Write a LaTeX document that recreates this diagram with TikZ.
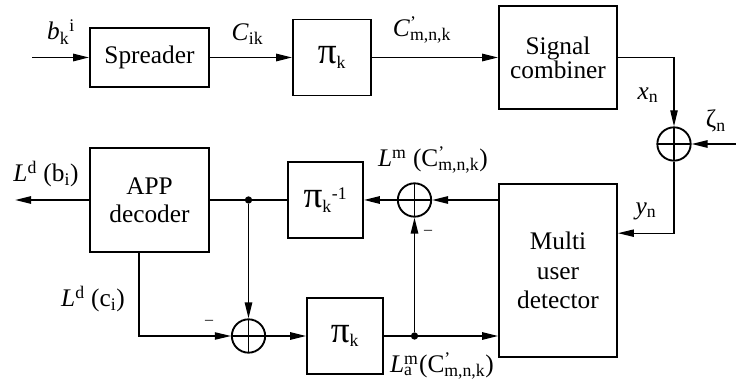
\documentclass[tikz,border=0pt]{standalone}
\usepackage{fontspec}
\setmainfont{Liberation Serif}
\usetikzlibrary{arrows.meta, positioning, calc}

\newcommand{\Cmnk}[1]{#1\rlap{\textsuperscript{’}}\textsubscript{m,n,k}}
\newcommand{\bigpi}{{\fontsize{28}{28}\selectfont π}}

\begin{document}
\begin{tikzpicture}[
    x=0.75pt, y=-0.75pt,
    font=\fontsize{19}{21}\selectfont,
    block/.style={rectangle, draw, line width=1.4pt, inner sep=0pt, align=center},
    adder/.style={circle, draw, line width=1.4pt, minimum size=25pt, inner sep=0pt,
        path picture={\draw[line width=1.4pt]
            (path picture bounding box.north) -- (path picture bounding box.south)
            (path picture bounding box.west) -- (path picture bounding box.east);}},
    dot/.style={circle, fill, minimum size=5.5pt, inner sep=0pt},
    arrow/.style={-{Triangle[length=12pt, width=5.5pt]}, line width=1.3pt},
    thinarrow/.style={-{Triangle[length=12pt, width=5.5pt]}, line width=0.8pt},
    line/.style={line width=1.3pt},
    lbl/.style={inner sep=0pt},
    minus/.style={inner sep=0pt, font=\fontsize{12}{14}\selectfont}
]
\useasboundingbox (0,0) rectangle (736,388);

% Blocks
\node[block, minimum width=89.25pt, minimum height=44.25pt] (spreader) at (149.5,57.5) {Spreader};
\node[block, minimum width=58.5pt, minimum height=57pt] (pitop) at (332,57.5) {\bigpi\textsubscript{k}};
\node[block, minimum width=88.5pt, minimum height=77.25pt] (combiner) at (558,57.5) {Signal\\[-3pt]combiner};
\node[adder] (addnoise) at (674,144) {};
\node[block, minimum width=88.5pt, minimum height=129.75pt] (mud) at (558,270.5) {Multi\\[1pt]user\\[1pt]detector};
\node[adder] (addext) at (414.5,200) {};
\node[block, minimum width=56.25pt, minimum height=57pt] (deint) at (325.5,200) {\bigpi\textsubscript{k}\textsuperscript{-1}};
\node[block, minimum width=89.25pt, minimum height=78pt] (app) at (149.5,200) {APP\\decoder};
\node[adder] (addapp) at (248.5,336) {};
\node[block, minimum width=57pt, minimum height=57pt] (pibot) at (345,336) {\bigpi\textsubscript{k}};

% Ends and junctions
\coordinate (in) at (32,57.5);
\coordinate (zin) at (736,144);
\coordinate (out) at (15,200);
\node[dot] (jup) at (248.5,200) {};
\node[dot] (jdown) at (414.5,336) {};

% Arrows
\draw[arrow] (in) -- (spreader);
\draw[arrow] (spreader) -- (pitop);
\draw[arrow] (pitop) -- (combiner);
\draw[thinarrow] (combiner.east) -| (addnoise.north);
\draw[arrow] (zin) -- (addnoise);
\draw[thinarrow] (addnoise.south) |- ([yshift=28pt]mud.east);
\draw[arrow] (mud.west |- addext) -- (addext);
\draw[arrow] (addext) -- (deint);
\draw[line] (deint) -- (app);
\draw[arrow] (app) -- (out);
\draw[arrow] (jup) -- (addapp);
\draw[thinarrow] ([xshift=-7.9pt]app.south) |- (addapp);
\draw[arrow] (addapp) -- (pibot);
\draw[arrow] (pibot) -- (mud.west |- pibot);
\draw[arrow] (jdown) -- (addext);

% Labels
\node[lbl] (bki) at (61,32) {\textit{b}\textsubscript{k}\textsuperscript{i}};
\node[lbl] (cik) at (247.5,34) {\textit{C}\textsubscript{ik}};
\node[lbl] (cmnk) at (422,30) {\Cmnk{\textit{C}}};
\node[lbl] (xn) at (648,95) {\textit{x}\textsubscript{n}};
\node[lbl] (zn) at (716,121) {ζ\textsubscript{n}};
\node[lbl] (yn) at (646,211) {\textit{y}\textsubscript{n}};
\node[lbl] (lm) at (433,160) {\textit{L}\textsuperscript{m} (\Cmnk{C})};
\node[lbl] (ldb) at (46,174) {\textit{L}\textsuperscript{d} (b\textsubscript{i})};
\node[lbl] (ldc) at (93,299) {\textit{L}\textsuperscript{d} (c\textsubscript{i})};
\node[lbl] (lam) at (442,366) {\textit{L}\rlap{\textsuperscript{m}}\textsubscript{a} (\Cmnk{C})};
\node[minus] (mapp) at (209,322) {–};
\node[minus] (mext) at (428,232) {–};

\end{tikzpicture}
\end{document}
